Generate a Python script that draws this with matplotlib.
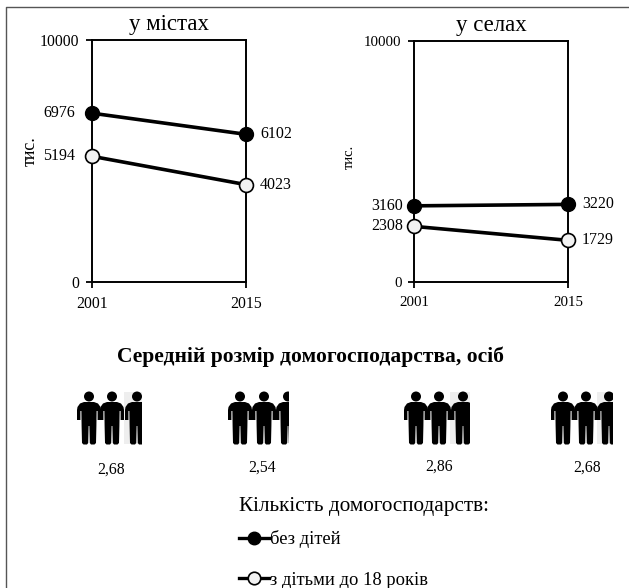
import matplotlib
matplotlib.use('Agg')
import matplotlib.pyplot as plt
from matplotlib.lines import Line2D
from matplotlib.patches import Circle, Polygon, Rectangle

plt.rcParams['font.family'] = ['Liberation Serif', 'DejaVu Serif']

years = [2001, 2015]
city_no_children = [6976, 6102]
city_children = [5194, 4023]
village_no_children = [3160, 3220]
village_children = [2308, 1729]
y_ticks = [0, 10000]
household_sizes = ['2,68', '2,54', '2,86', '2,68']

W, H = 629, 588
fig = plt.figure(figsize=(W / 100, H / 100), dpi=100)


def px_axes(left, top, right, bottom):
    return fig.add_axes([left / W, 1 - bottom / H, (right - left) / W, (bottom - top) / H])


def draw_panel(ax, title, black, white, tick_size, ylab_x, ylab_y, ylab_size, left_off, title_pad):
    ax.plot(years, black, '-', color='black', lw=2.6, marker='o', ms=10,
            mfc='black', mec='black', mew=1, clip_on=False, zorder=3)
    ax.plot(years, white, '-', color='black', lw=2.6, marker='o', ms=10,
            mfc='#f2f2f2', mec='black', mew=1.2, clip_on=False, zorder=3)
    ax.set_xlim(years[0], years[1])
    ax.set_ylim(y_ticks[0], y_ticks[1])
    ax.set_xticks(years)
    ax.set_yticks(y_ticks)
    ax.tick_params(labelsize=tick_size, width=1.3, length=4, pad=3)
    ax.tick_params(axis='x', pad=6)
    ax.tick_params(axis='y', pad=5)
    for s in ax.spines.values():
        s.set_linewidth(1.4)
    ax.set_title(title, fontsize=16.5, pad=title_pad)
    fig.text(ylab_x / W, 1 - ylab_y / H, 'тис.', rotation=90, fontsize=ylab_size,
             ha='center', va='center')
    # підписи значень
    for series in (black, white):
        ax.annotate(str(series[0]), (years[0], series[0]), xytext=(left_off, 0),
                    textcoords='offset points', ha='right', va='center', fontsize=11.5)
        ax.annotate(str(series[1]), (years[1], series[1]), xytext=(10, 0),
                    textcoords='offset points', ha='left', va='center', fontsize=11.5)


ax1 = px_axes(92, 40, 246, 282)
draw_panel(ax1, 'у містах', city_no_children, city_children, 11.3, 30, 151, 13, -12, 7)
ax2 = px_axes(414, 41, 568, 282)
draw_panel(ax2, 'у селах', village_no_children, village_children, 10.7, 349, 157, 10.5, -8, 7)

# нижня частина малюнка в пікселях
bg = fig.add_axes([0, 0, 1, 1], zorder=-1)
bg.set_xlim(0, W)
bg.set_ylim(H, 0)
bg.axis('off')

# рамка
bg.plot([6, 6, W], [H, 7, 7], color='#555555', lw=1)


def draw_person(cx, clip_right):
    parts = [
        Circle((cx, 396.5), 5),
        Polygon([(cx - 5, 402), (cx + 5, 402), (cx + 9, 403.5), (cx + 11.5, 407), (cx + 12, 410),
                 (cx + 12, 420), (cx + 8.6, 420), (cx + 8.6, 411), (cx + 7.6, 411), (cx + 7.4, 426),
                 (cx + 7, 443), (cx + 5.5, 444.5), (cx + 2, 444.5), (cx + 0.8, 443),
                 (cx + 0.4, 426), (cx - 0.4, 426), (cx - 0.8, 443), (cx - 2, 444.5),
                 (cx - 5.5, 444.5), (cx - 7, 443), (cx - 7.4, 426), (cx - 7.6, 411),
                 (cx - 8.6, 411), (cx - 8.6, 420), (cx - 12, 420), (cx - 12, 410),
                 (cx - 11.5, 407), (cx - 9, 403.5)], closed=True),
    ]
    clip = Rectangle((0, 0), clip_right, H, transform=bg.transData)
    for p in parts:
        p.set(facecolor='black', edgecolor='none', zorder=3)
        bg.add_patch(p)
        p.set_clip_path(clip)


icon_centers = [[89, 112, 137], [240, 264, 288], [416, 439, 463], [563, 586, 609]]
icon_right = [142, 289, 470, 613]
gray_left = [124, None, 450, 597]
label_x = [111, 262, 439, 587]
label_y = [470, 468, 467, 468]

for centers, right, gl, lx, ly, size in zip(icon_centers, icon_right, gray_left,
                                            label_x, label_y, household_sizes):
    if gl is not None:
        bg.add_patch(Rectangle((gl, 392), right - gl, 52, facecolor='#eeeeee', edgecolor='none', zorder=1))
    for c in centers:
        draw_person(c, right)
    bg.text(lx, ly, size, ha='center', va='center', fontsize=11.3)

fig.text(310 / W, 1 - 357 / H, 'Середній розмір домогосподарства, осіб', ha='center', va='center',
         fontsize=15.5, fontweight='bold')
fig.text(363.5 / W, 1 - 506 / H, 'Кількість домогосподарств:', ha='center', va='center', fontsize=15.3)

handles = [
    Line2D([], [], color='black', lw=2.4, marker='o', ms=9, mfc='black', mec='black'),
    Line2D([], [], color='black', lw=2.4, marker='o', ms=9, mfc='#f2f2f2', mec='black', mew=1.2),
]
fig.legend(handles, ['без дітей', 'з дітьми до 18 років'], loc='upper left',
           bbox_to_anchor=(239 / W, 1 - 530 / H), frameon=False, fontsize=13.3,
           handlelength=1.6, handletextpad=0.1, labelspacing=1.28,
           borderaxespad=0, borderpad=0)

fig.savefig('out.png', dpi=100)
